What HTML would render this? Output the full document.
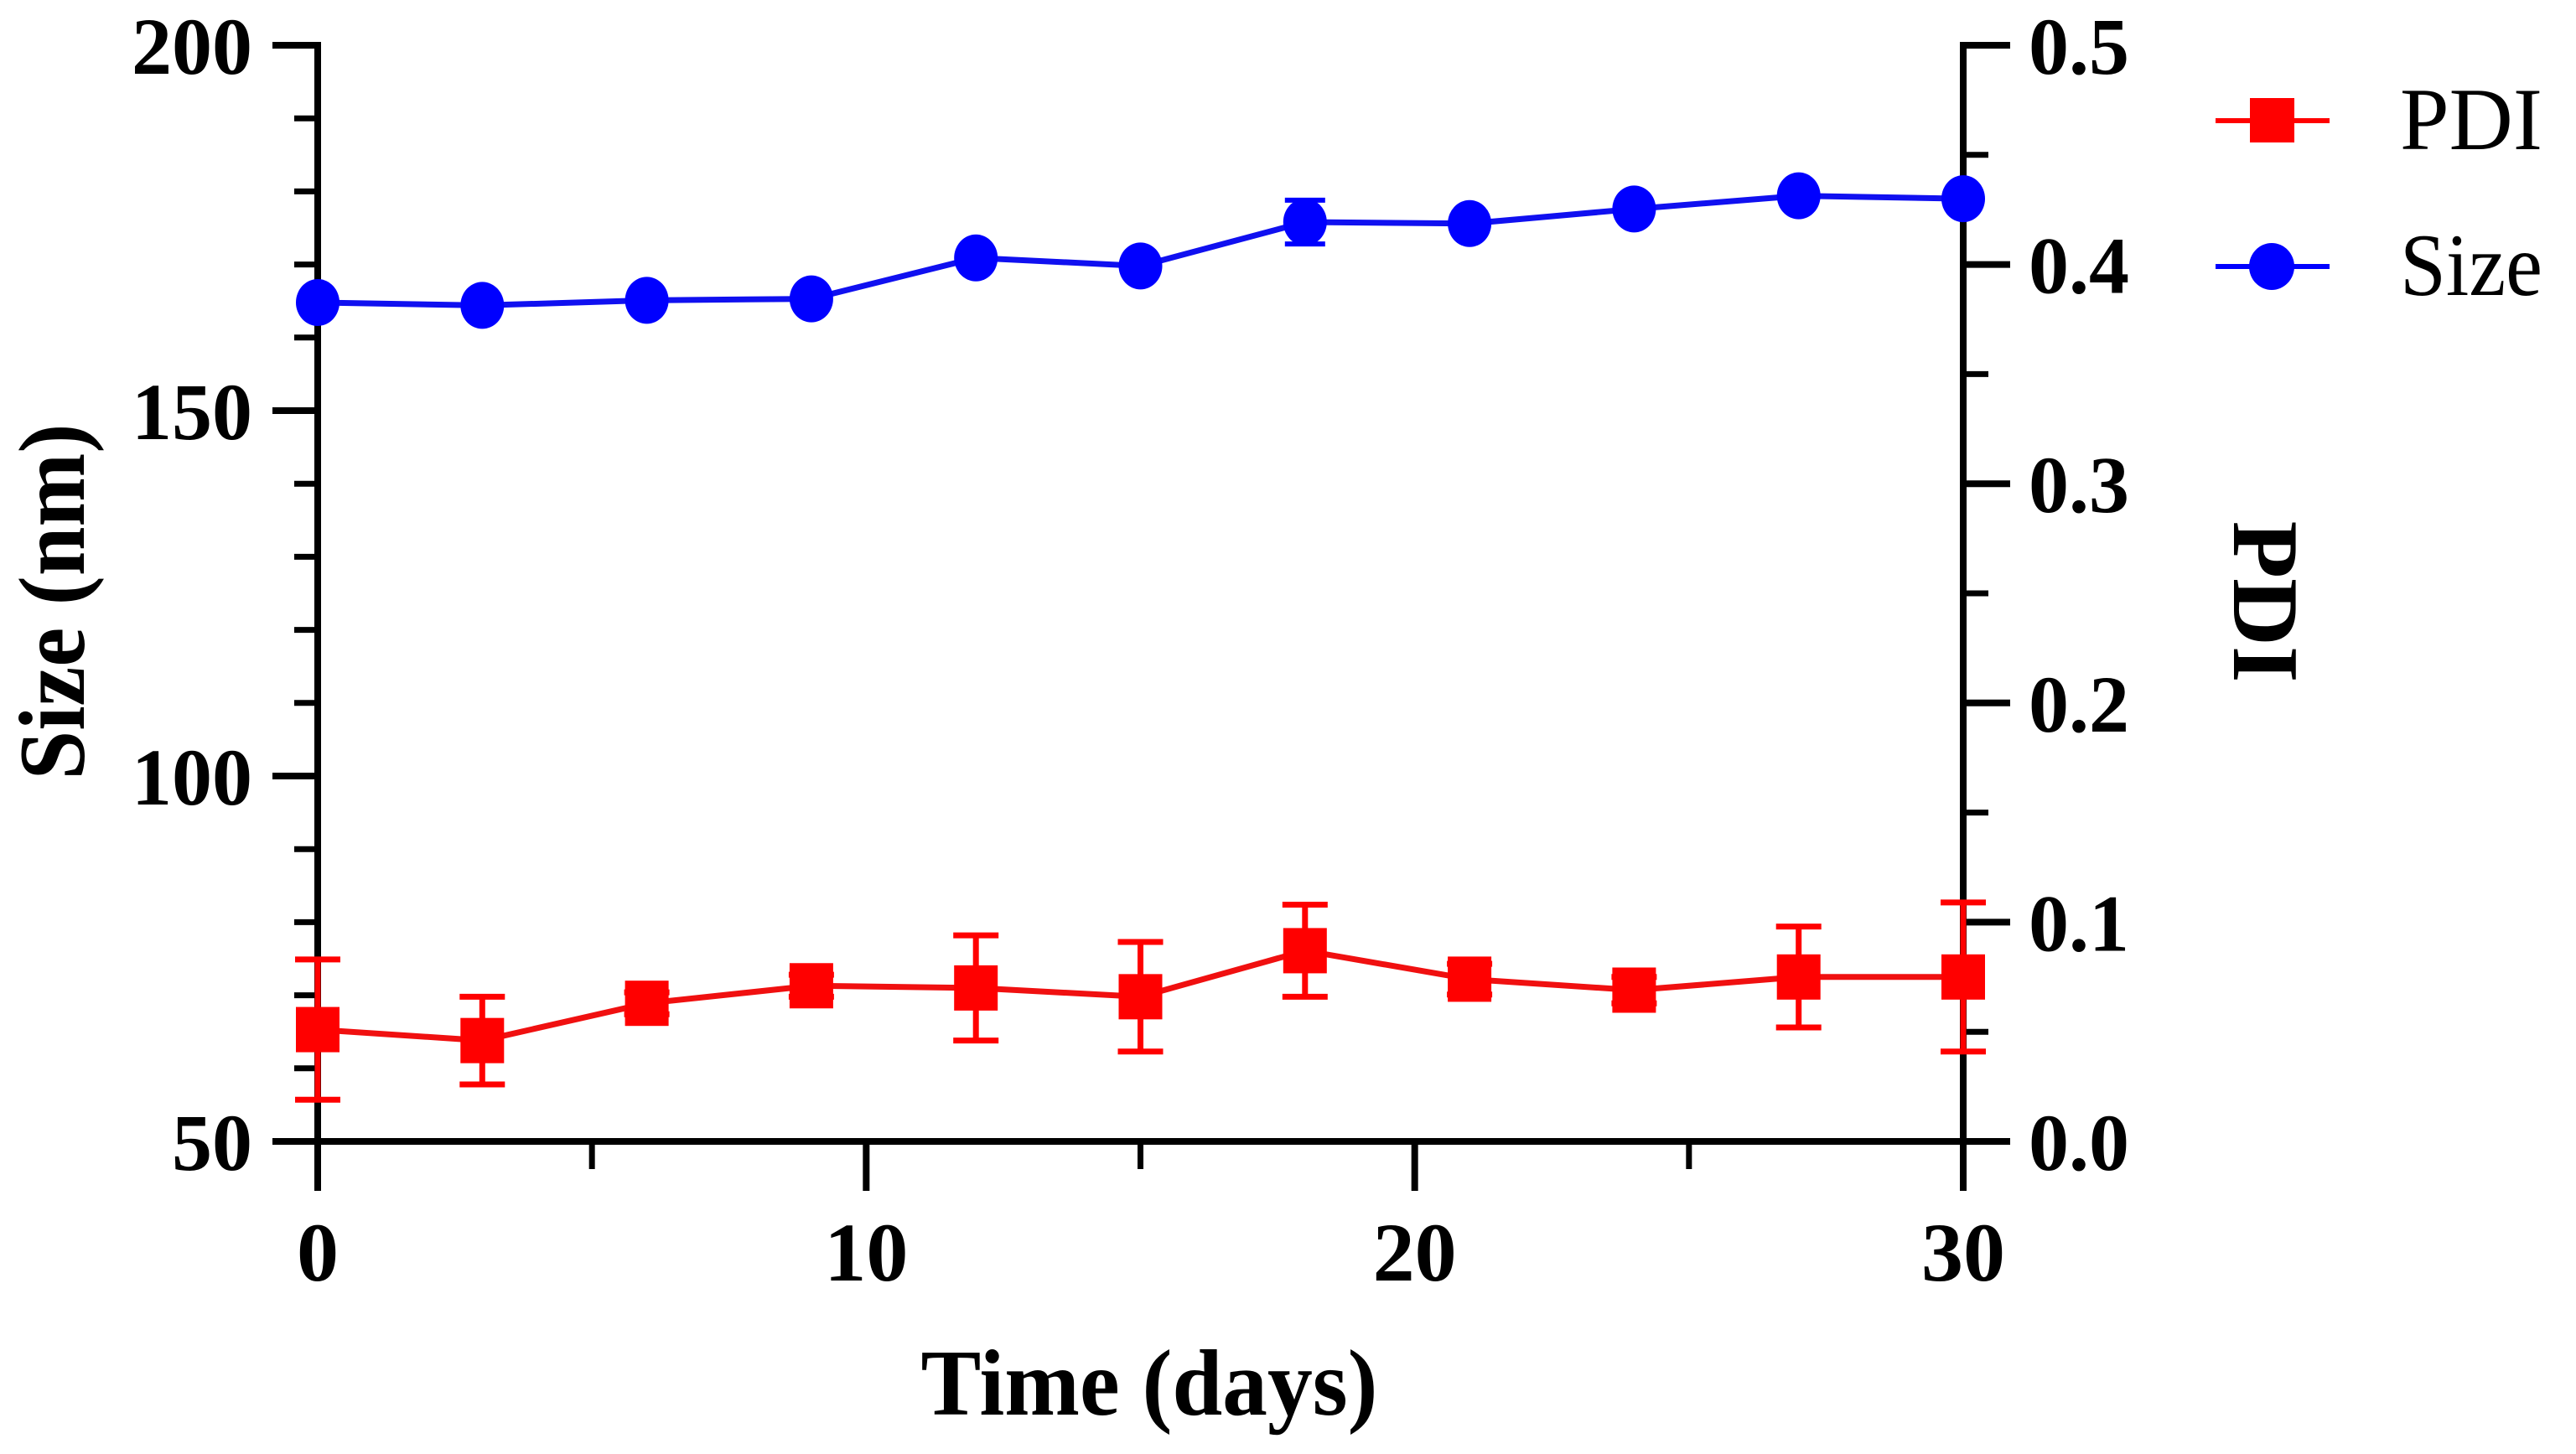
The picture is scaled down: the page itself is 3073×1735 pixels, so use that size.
<!DOCTYPE html>
<html><head><meta charset="utf-8"><style>
html,body{margin:0;padding:0;background:#fff;}
svg{display:block;}
text{font-family:"Liberation Serif",serif;}
</style></head><body>
<svg id="chart" width="3073" height="1735" viewBox="0 0 3073 1735" xmlns="http://www.w3.org/2000/svg">
<g id="axes"></g>
<g id="series"></g>
<text x="1371" y="1688" font-size="112" font-weight="bold" text-anchor="middle" textLength="545" lengthAdjust="spacingAndGlyphs">Time (days)</text>
<text transform="translate(100,718) rotate(-90)" font-size="112" font-weight="bold" text-anchor="middle" textLength="425" lengthAdjust="spacingAndGlyphs">Size (nm)</text>
<text transform="translate(2665,718) rotate(90)" font-size="112" font-weight="bold" text-anchor="middle">PDI</text>
<g>
<g>
<line x1="2643" y1="144" x2="2779" y2="144" stroke="#f00" stroke-width="6"/>
<rect x="2684" y="117" width="53" height="53" fill="#f00"/>
<text x="2863" y="178" font-size="106" textLength="170" lengthAdjust="spacingAndGlyphs">PDI</text>
</g>
<g>
<line x1="2643" y1="318" x2="2779" y2="318" stroke="#00f" stroke-width="6"/>
<ellipse cx="2710" cy="318" rx="27" ry="28" fill="#00f"/>
<text x="2863" y="352" font-size="106" textLength="170" lengthAdjust="spacingAndGlyphs">Size</text>
</g>
</g>
</svg>
<script>
const days = [0,3,6,9,12,15,18,21,24,27,30];
const sizeVals = [164.8,164.4,165.1,165.3,170.9,169.8,175.8,175.6,177.6,179.4,179.0];
const sizeErr = [0.5,0.5,0.5,0.5,0.6,0.6,3,0.6,0.5,0.5,0.5];
const pdiVals = [0.051,0.046,0.063,0.071,0.070,0.066,0.087,0.074,0.069,0.075,0.075];
const pdiErr = [0.032,0.02,0.005,0.005,0.024,0.025,0.021,0.007,0.006,0.023,0.034];
const xTicks = [0,10,20,30];
const xMinorTicks = [5,15,25];
const yLeftTicks = [50,100,150,200];
const yRightTicks = [0.0,0.1,0.2,0.3,0.4,0.5];
const yRightLabels = ["0.0","0.1","0.2","0.3","0.4","0.5"];

const X0=379, X1=2342, YT=54, YB=1362;
const xs = d => X0 + (d/30)*(X1-X0);
const ysL = v => YB - (v-50)/150*(YB-YT);
const ysR = v => YB - v/0.5*(YB-YT);
const NS="http://www.w3.org/2000/svg";
function mk(tag, attrs, parent){const e=document.createElementNS(NS,tag);for(const k in attrs)e.setAttribute(k,attrs[k]);parent.appendChild(e);return e;}
const axes=document.getElementById('axes');
const series=document.getElementById('series');
let a=mk('line',{x1:X0,y1:YT-4,x2:X0,y2:1421,stroke:'#000','stroke-width':8},axes);


a=mk('line',{x1:X0-54,y1:YB,x2:X1+4,y2:YB,stroke:'#000','stroke-width':8},axes);


a=mk('line',{x1:X1,y1:YT-4,x2:X1,y2:1421,stroke:'#000','stroke-width':8},axes);


xTicks.forEach(t=>{
  const x=xs(t);
  const l=mk('line',{x1:x,y1:YB,x2:x,y2:1421,stroke:'#000','stroke-width':8},axes);
  
  
  const tx=mk('text',{x:x,y:1528,'font-size':100,'font-weight':'bold','text-anchor':'middle'},axes);
  tx.textContent=t;
  
  
});
xMinorTicks.forEach(t=>{
  const x=xs(t);
  const l=mk('line',{x1:x,y1:YB,x2:x,y2:1395,stroke:'#000','stroke-width':7},axes);
  
  
});
yLeftTicks.forEach((t,i)=>{
  const y=ysL(t);
  const l=mk('line',{x1:X0-54,y1:y,x2:X0,y2:y,stroke:'#000','stroke-width':8},axes);
  
  
  const tx=mk('text',{x:X0-78,y:y+34,'font-size':96,'font-weight':'bold','text-anchor':'end'},axes);
  tx.textContent=t;
  
  
  if(i<yLeftTicks.length-1){
    for(let k=1;k<5;k++){
      const v=t+k*10;
      const m=mk('line',{x1:X0-28,y1:ysL(v),x2:X0,y2:ysL(v),stroke:'#000','stroke-width':7},axes);
      
      
    }
  }
});
yRightTicks.forEach((t,i)=>{
  const y=ysR(t);
  const l=mk('line',{x1:X1,y1:y,x2:X1+56,y2:y,stroke:'#000','stroke-width':8},axes);
  
  
  const tx=mk('text',{x:X1+78,y:y+34,'font-size':96,'font-weight':'bold','text-anchor':'start'},axes);
  tx.textContent=yRightLabels[i];
  
  
  if(i<yRightTicks.length-1){
    const v=t+0.05;
    const m=mk('line',{x1:X1,y1:ysR(v),x2:X1+30,y2:ysR(v),stroke:'#000','stroke-width':7},axes);
    
    
  }
});
let p=mk('polyline',{points:days.map((d,i)=>xs(d)+','+ysL(sizeVals[i])).join(' '),fill:'none',stroke:'#1010f0','stroke-width':7},series);


days.forEach((d,i)=>{
  const x=xs(d), y=ysL(sizeVals[i]);
  const yt=ysL(sizeVals[i]+sizeErr[i]), yb=ysL(sizeVals[i]-sizeErr[i]);
  const e=mk('path',{d:`M${x},${yt}V${yb}M${x-24},${yt}H${x+24}M${x-24},${yb}H${x+24}`,stroke:'#00f','stroke-width':6,fill:'none'},series);
  
  
  const c=mk('ellipse',{cx:x,cy:y,rx:26,ry:28,fill:'#00f'},series);
  
  
});
p=mk('polyline',{points:days.map((d,i)=>xs(d)+','+ysR(pdiVals[i])).join(' '),fill:'none',stroke:'#f01010','stroke-width':7},series);


days.forEach((d,i)=>{
  const x=xs(d), y=ysR(pdiVals[i]);
  const yt=ysR(pdiVals[i]+pdiErr[i]), yb=ysR(pdiVals[i]-pdiErr[i]);
  const e=mk('path',{d:`M${x},${yt}V${yb}M${x-27},${yt}H${x+27}M${x-27},${yb}H${x+27}`,stroke:'#f00','stroke-width':7,fill:'none'},series);
  
  
  const r=mk('rect',{x:x-26,y:y-27,width:52,height:54,fill:'#f00'},series);
  
  
});
</script>
</body></html>
